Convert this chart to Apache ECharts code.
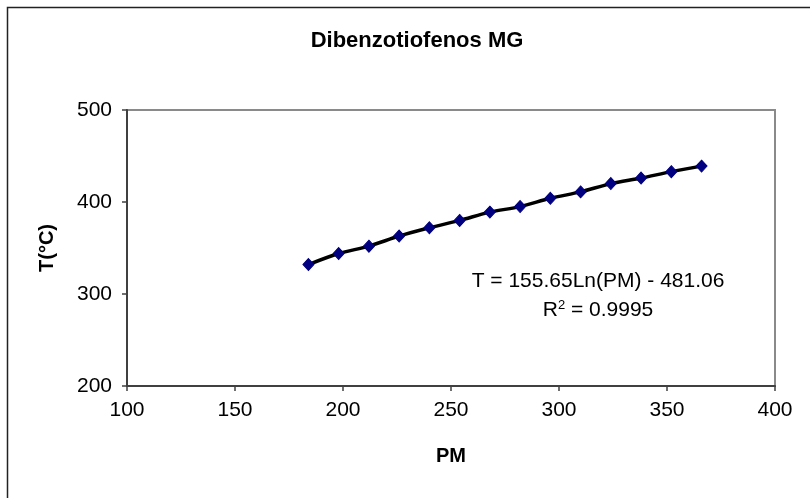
<!DOCTYPE html>
<html>
<head>
<meta charset="utf-8">
<script src="https://cdn.jsdelivr.net/npm/echarts@6/dist/echarts.min.js"></script>
<style>
  html, body { margin: 0; padding: 0; background: #fff; }
  #chart { width: 810px; height: 498px; }
</style>
</head>
<body>
<div id="chart"></div>
<script>
// Molecular weight (PM) of each dibenzothiophene homologue and its temperature (°C)
const pm = [184, 198, 212, 226, 240, 254, 268, 282, 296, 310, 324, 338, 352, 366];
const temp = [332, 344, 352, 363, 372, 380, 389, 395, 404, 411, 420, 426, 433, 439];

const xTicks = { min: 100, max: 400, interval: 50 };
const yTicks = { min: 200, max: 500, interval: 100 };

const titleText = 'Dibenzotiofenos MG';
const xName = 'PM';
const yName = 'T(°C)';
const fitEquation = 'T = 155.65Ln(PM) - 481.06';
const fitR2 = '0.9995';

const FONT = '"Liberation Sans", Arial, sans-serif';

const points = pm.map((x, i) => [x, temp[i]]);

const chart = echarts.init(document.getElementById('chart'), null, { renderer: 'canvas' });

chart.setOption({
  animation: false,
  backgroundColor: '#ffffff',
  title: {
    text: titleText,
    left: 412,
    top: 25,
    textAlign: 'center',
    textStyle: { fontFamily: FONT, fontSize: 22, fontWeight: 'bold', color: '#000' }
  },
  grid: {
    left: 127, top: 110, right: 35, bottom: 112,
    show: true, borderColor: '#8a8a8a', borderWidth: 2, backgroundColor: '#fff'
  },
  xAxis: {
    type: 'value',
    min: xTicks.min, max: xTicks.max, interval: xTicks.interval,
    name: xName,
    nameLocation: 'middle',
    nameGap: 60,
    nameTextStyle: { fontFamily: FONT, fontSize: 20, fontWeight: 'bold', color: '#000' },
    axisLine: { show: true, onZero: false, lineStyle: { color: '#404040', width: 2 } },
    axisTick: { show: true, inside: false, length: 5, lineStyle: { color: '#404040', width: 1.5 } },
    axisLabel: { fontFamily: FONT, fontSize: 21, color: '#000', margin: 14 },
    splitLine: { show: false }
  },
  yAxis: {
    type: 'value',
    min: yTicks.min, max: yTicks.max, interval: yTicks.interval,
    name: yName,
    nameLocation: 'middle',
    nameGap: 70,
    nameRotate: 90,
    nameTextStyle: { fontFamily: FONT, fontSize: 20, fontWeight: 'bold', color: '#000' },
    axisLine: { show: true, onZero: false, lineStyle: { color: '#404040', width: 2 } },
    axisTick: { show: true, inside: false, length: 5, lineStyle: { color: '#404040', width: 1.5 } },
    axisLabel: { fontFamily: FONT, fontSize: 21, color: '#000', margin: 15 },
    splitLine: { show: false }
  },
  series: [{
    type: 'line',
    data: points,
    smooth: 0.3,
    symbol: 'diamond',
    symbolSize: [11, 12],
    itemStyle: { color: '#000080', borderColor: '#000080' },
    lineStyle: { color: '#000', width: 3.5 },
    z: 3
  }],
  graphic: [
    {
      type: 'rect',
      shape: { x: 7.5, y: 7.5, width: 830, height: 520 },
      style: { fill: 'none', stroke: '#222', lineWidth: 1.5 },
      silent: true,
      z: 0
    },
    {
      type: 'text',
      style: {
        x: 598,
        y: 281,
        text: fitEquation,
        fontFamily: FONT,
        fontSize: 21,
        fill: '#000',
        textAlign: 'center',
        textVerticalAlign: 'middle'
      },
      z: 10
    },
    {
      type: 'text',
      style: {
        x: 598,
        y: 310,
        text: '{b|R}{s|2}{b| = ' + fitR2 + '}',
        rich: {
          b: { fontFamily: FONT, fontSize: 21, fill: '#000', color: '#000' },
          s: { fontFamily: FONT, fontSize: 13, fill: '#000', color: '#000', verticalAlign: 'top', padding: [0, 0, 10, 0] }
        },
        textAlign: 'center',
        textVerticalAlign: 'middle'
      },
      z: 10
    }
  ]
});
</script>
</body>
</html>
